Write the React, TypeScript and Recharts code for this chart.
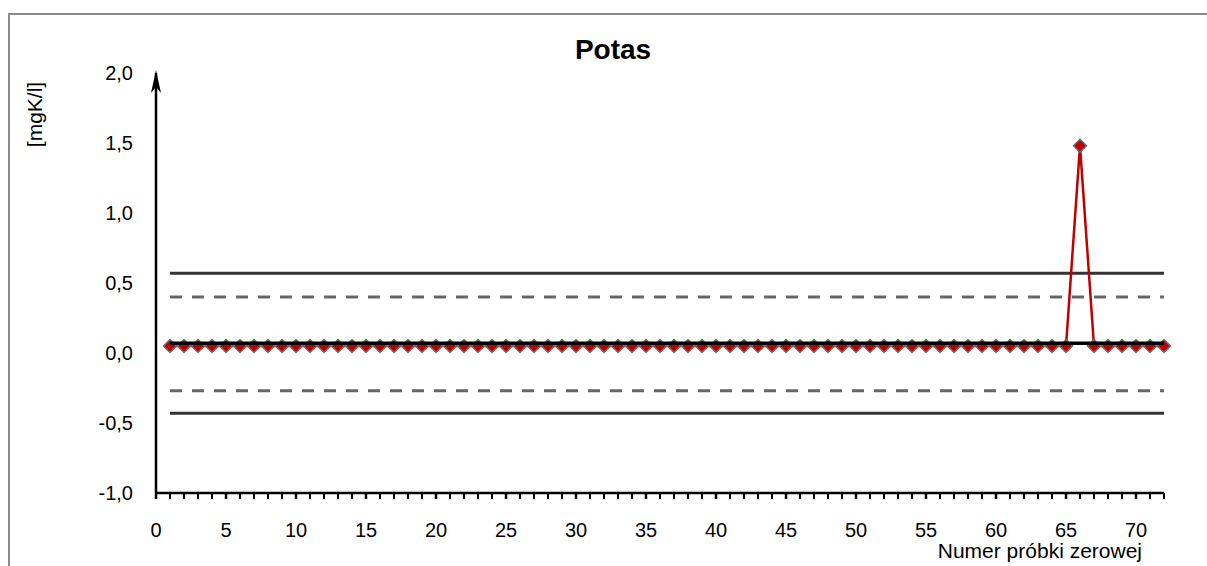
import React from "react";
import {
  ComposedChart,
  Line,
  XAxis,
  YAxis,
  ReferenceLine,
  ReferenceDot,
} from "recharts";

document.body.style.margin = "0";
document.body.style.overflow = "hidden";

// wyniki próbek zerowych [mgK/l]
const values = [
  0.05, 0.05, 0.05, 0.05, 0.05, 0.05, 0.05, 0.05, 0.05, 0.05, 0.05, 0.05,
  0.05, 0.05, 0.05, 0.05, 0.05, 0.05, 0.05, 0.05, 0.05, 0.05, 0.05, 0.05,
  0.05, 0.05, 0.05, 0.05, 0.05, 0.05, 0.05, 0.05, 0.05, 0.05, 0.05, 0.05,
  0.05, 0.05, 0.05, 0.05, 0.05, 0.05, 0.05, 0.05, 0.05, 0.05, 0.05, 0.05,
  0.05, 0.05, 0.05, 0.05, 0.05, 0.05, 0.05, 0.05, 0.05, 0.05, 0.05, 0.05,
  0.05, 0.05, 0.05, 0.05, 0.05, 1.48, 0.05, 0.05, 0.05, 0.05, 0.05, 0.05,
];
const sampleNo = values.map((_, i) => i + 1);

const mean = 0.07;
const controlLimits = [0.57, -0.43]; // linie kontrolne
const warningLimits = [0.4, -0.27]; // linie ostrzegawcze

const yTicks = [-1, -0.5, 0, 0.5, 1, 1.5, 2];
const xTicks = Array.from({ length: 73 }, (_, i) => i);

const data = sampleNo.map((n, i) => ({ n, v: values[i] }));

const FONT = "'Liberation Sans', Arial, sans-serif";

const fmt = (v: number) => v.toFixed(1).replace(".", ",");

const Diamond = (props: any) => {
  const { cx, cy, index } = props;
  if (cx == null || cy == null) return null;
  const r = 6.5;
  return (
    <path
      key={index}
      d={`M${cx},${cy - r} L${cx + r},${cy} L${cx},${cy + r} L${cx - r},${cy} Z`}
      fill="#C00000"
      stroke="#6e6e6e"
      strokeWidth={1.5}
    />
  );
};

const XTick = (props: any) => {
  const { x, y, payload } = props;
  const v = payload.value;
  const major = v % 5 === 0;
  return (
    <g>
      <line x1={x} x2={x} y1={y} y2={y + 6} stroke="#000" strokeWidth={major ? 2.5 : 2} />
      {major && (
        <text x={x} y={y + 44} textAnchor="middle" fontSize={20} fontFamily={FONT} fill="#000">
          {v}
        </text>
      )}
    </g>
  );
};

const Arrow = (props: any) => {
  const { cx, cy } = props;
  return (
    <path
      d={`M${cx},${cy - 3} L${cx + 5},${cy + 20} L${cx},${cy + 14} L${cx - 5},${cy + 20} Z`}
      fill="#000"
    />
  );
};

export default function App() {
  return (
    <div style={{ position: "relative", width: 1207, height: 566, overflow: "hidden", background: "#fff" }}>
      <div
        style={{
          position: "absolute",
          left: 8,
          top: 13,
          right: -10,
          bottom: -10,
          borderLeft: "2.5px solid #8a8a8a",
          borderTop: "2.5px solid #8a8a8a",
        }}
      />
      <div style={{ position: "absolute", left: 0, top: 0 }}>
        <ComposedChart
          width={1207}
          height={566}
          data={data}
          margin={{ top: 73, right: 43, bottom: 13, left: 96 }}
        >
          <XAxis
            dataKey="n"
            type="number"
            domain={[0, 72]}
            ticks={xTicks}
            interval={0}
            height={60}
            tickSize={0}
            tickMargin={0}
            tickLine={false}
            tick={<XTick />}
            axisLine={{ stroke: "#000", strokeWidth: 2.5 }}
          />
          <YAxis
            type="number"
            domain={[-1, 2]}
            ticks={yTicks}
            width={60}
            tickSize={0}
            tickMargin={23}
            tickLine={false}
            tickFormatter={fmt}
            tick={{ fontSize: 20, fill: "#000", fontFamily: FONT }}
            axisLine={{ stroke: "#000", strokeWidth: 2.5 }}
          />
          {controlLimits.map((l) => (
            <ReferenceLine
              key={"c" + l}
              segment={[{ x: 1, y: l }, { x: 72, y: l }]}
              stroke="#333"
              strokeWidth={3}
            />
          ))}
          {warningLimits.map((l) => (
            <ReferenceLine
              key={"w" + l}
              segment={[{ x: 1, y: l }, { x: 72, y: l }]}
              stroke="#666"
              strokeWidth={3}
              strokeDasharray="12 10"
            />
          ))}
          <Line
            dataKey="v"
            stroke="#C00000"
            strokeWidth={2.5}
            dot={Diamond}
            activeDot={false}
            isAnimationActive={false}
          />
          {/* średnia - rysowana nad punktami */}
          <ReferenceLine
            segment={[{ x: 1, y: mean }, { x: 72, y: mean }]}
            stroke="#000"
            strokeWidth={3.5}
            zIndex={900}
          />
          <ReferenceDot x={0} y={2} ifOverflow="visible" shape={Arrow} />
        </ComposedChart>
      </div>
      <svg
        width={1207}
        height={566}
        style={{ position: "absolute", left: 0, top: 0, pointerEvents: "none" }}
      >
        <text x={613} y={59} textAnchor="middle" fontSize={28} fontWeight="bold" fontFamily={FONT} fill="#000">
          Potas
        </text>
        <text
          x={0}
          y={0}
          transform="translate(42,114.5) rotate(-90)"
          textAnchor="middle"
          fontSize={21}
          fontFamily={FONT}
          fill="#000"
        >
          [mgK/l]
        </text>
        <text x={1142} y={558} textAnchor="end" fontSize={21} fontFamily={FONT} fill="#000">
          Numer próbki zerowej
        </text>
      </svg>
    </div>
  );
}
